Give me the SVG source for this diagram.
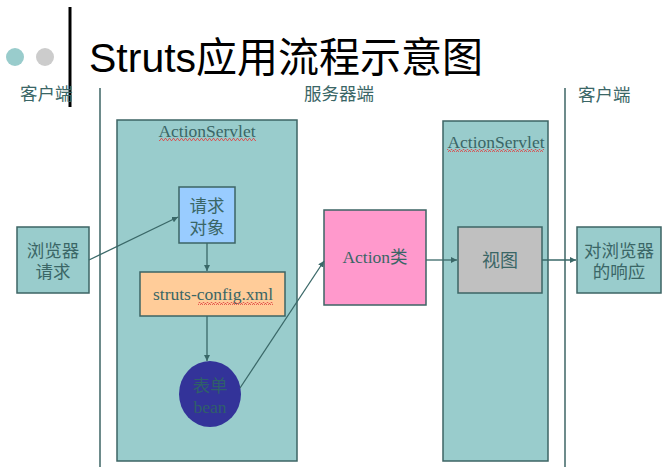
<svg xmlns="http://www.w3.org/2000/svg" width="668" height="467" viewBox="0 0 668 467">
<style>
.box{stroke:#3d6464;stroke-width:1.5}
.lbl{font-family:"Liberation Serif","Noto Sans CJK SC",serif;font-size:17.5px;fill:#3a6666;text-anchor:middle}
.zone{font-family:"Noto Sans CJK SC","Liberation Sans",sans-serif;font-size:17.5px;fill:#3a6666}
.conn{stroke:#3a6868;stroke-width:1.3;fill:none;marker-end:url(#ah)}
.sep{stroke:#3d6464;stroke-width:1.5}
</style>
<defs>
<marker id="ah" viewBox="0 0 10 10" refX="10" refY="5" markerWidth="6" markerHeight="6" orient="auto" markerUnits="userSpaceOnUse">
<path d="M0 0 L10 5 L0 10 z" fill="#3a6868"/>
</marker>
<pattern id="wave" width="4" height="3" patternUnits="userSpaceOnUse">
<path d="M0 2.5 L1 0.5 L2 0.5 L3 2.5 L4 2.5" fill="none" stroke="#e04040" stroke-width="0.8"/>
</pattern>
</defs>
<rect width="668" height="467" fill="#ffffff"/>
<g id="header">
<circle cx="15" cy="57" r="9" fill="#99cccc"/>
<circle cx="45" cy="57" r="9" fill="#cccccc"/>
<line x1="70" y1="7" x2="70" y2="107" stroke="#000" stroke-width="3"/>
<text x="89" y="72" font-family="Liberation Sans,'Noto Sans CJK SC',sans-serif" font-size="41" fill="#000">Struts应用流程示意图</text>
<text class="zone" x="20" y="100">客户端</text>
<text class="zone" x="304" y="100">服务器端</text>
<text class="zone" x="578" y="101">客户端</text>
<line class="sep" x1="100" y1="88" x2="100" y2="467"/>
<line class="sep" x1="565" y1="88" x2="565" y2="467"/>
</g>
<g id="servlet-left">
<rect class="box" x="117" y="120" width="180" height="341" fill="#99cccc"/>
<text class="lbl" x="207" y="137">ActionServlet</text>
<rect x="159" y="138" width="97" height="3" fill="url(#wave)"/>
</g>
<g id="servlet-right">
<rect class="box" x="443" y="121" width="105" height="340" fill="#99cccc"/>
<text class="lbl" x="496" y="148">ActionServlet</text>
<rect x="447" y="149" width="97" height="3" fill="url(#wave)"/>
</g>
<g id="browser-request">
<rect class="box" x="17" y="227" width="72" height="66" fill="#99cccc"/>
<text class="lbl" x="53" y="257">浏览器</text>
<text class="lbl" x="53" y="278">请求</text>
</g>
<g id="request-object">
<rect class="box" x="179" y="187" width="56" height="56" fill="#99ccff"/>
<text class="lbl" x="207" y="212">请求</text>
<text class="lbl" x="207" y="234">对象</text>
</g>
<g id="struts-config">
<rect class="box" x="140" y="272" width="145" height="44" fill="#ffcc99"/>
<text class="lbl" x="213" y="300">struts-config.xml</text>
<rect x="198" y="302" width="75" height="3" fill="url(#wave)"/>
</g>
<g id="form-bean">
<ellipse cx="210" cy="394" rx="31" ry="33" fill="#333399"/>
<text class="lbl" x="210" y="392" style="fill:#2f5f6a">表单</text>
<text class="lbl" x="210" y="413" style="fill:#2f5f6a">bean</text>
</g>
<g id="action-class">
<rect class="box" x="324" y="210" width="102" height="95" fill="#ff99cc"/>
<text class="lbl" x="375" y="263">Action类</text>
</g>
<g id="view">
<rect class="box" x="458" y="227" width="84" height="66" fill="#c0c0c0"/>
<text class="lbl" x="500" y="267" style="font-size:18px">视图</text>
</g>
<g id="browser-response">
<rect class="box" x="577" y="227" width="84" height="66" fill="#99cccc"/>
<text class="lbl" x="619" y="257">对浏览器</text>
<text class="lbl" x="619" y="278">的响应</text>
</g>
<g id="connectors">
<line class="conn" x1="89" y1="260" x2="178" y2="217"/>
<line class="conn" x1="207" y1="243" x2="207" y2="271"/>
<line class="conn" x1="207" y1="316" x2="207" y2="361"/>
<line class="conn" x1="240" y1="388" x2="324" y2="261"/>
<line class="conn" x1="426" y1="260" x2="457" y2="260"/>
<line class="conn" x1="542" y1="260" x2="576" y2="260"/>
</g>
</svg>
